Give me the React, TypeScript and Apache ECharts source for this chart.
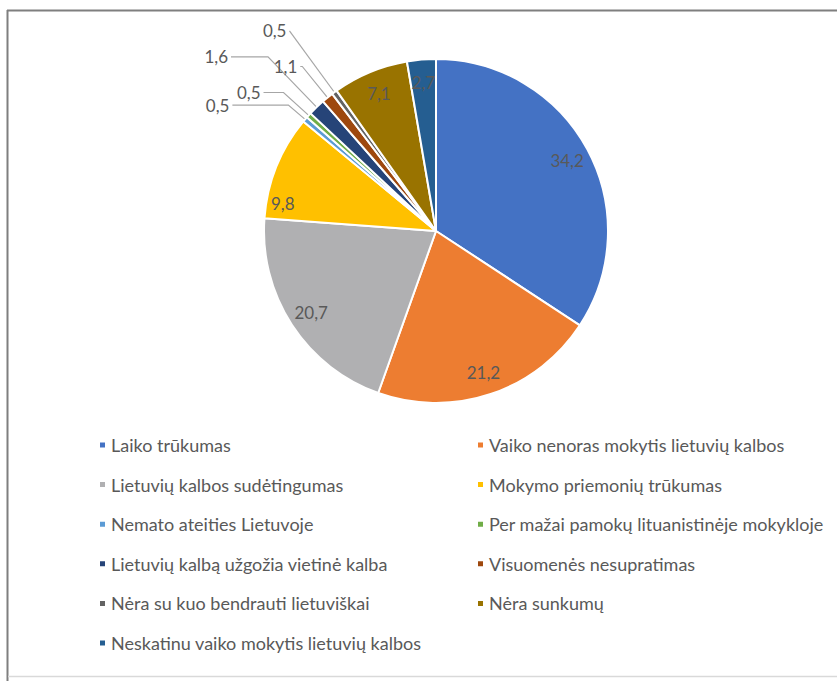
import React, { useEffect, useRef } from "react";
import * as echarts from "echarts";

const categories = [
  "Laiko trūkumas",
  "Vaiko nenoras mokytis lietuvių kalbos",
  "Lietuvių kalbos sudėtingumas",
  "Mokymo priemonių trūkumas",
  "Nemato ateities Lietuvoje",
  "Per mažai pamokų lituanistinėje mokykloje",
  "Lietuvių kalbą užgožia vietinė kalba",
  "Visuomenės nesupratimas",
  "Nėra su kuo bendrauti lietuviškai",
  "Nėra sunkumų",
  "Neskatinu vaiko mokytis lietuvių kalbos",
];
const values = [34.2, 21.2, 20.7, 9.8, 0.5, 0.5, 1.6, 1.1, 0.5, 7.1, 2.7];

const colors = [
  "#4472C4", "#ED7D31", "#B0B0B2", "#FFC000", "#5B9BD5", "#70AD47",
  "#264478", "#9E480E", "#636363", "#997300", "#255E91",
];
// which slices carry their value inside the pie
const insideLabel = [true, true, true, true, false, false, false, false, false, true, true];
// leader line lengths for the outside labels (style only)
const leaderLen: Record<number, [number, number]> = {
  4: [22, 56],
  5: [34, 20],
  6: [70, 37],
  7: [40, 2],
  8: [76, 0],
};
const insideOffset: Record<number, [number, number]> = { 3: [-15, 28] };

const TEXT = "#595959";
const FONT = "Lato, 'Open Sans', sans-serif";
const fmt = (v: number) => String(v).replace(".", ",");

export default function App() {
  const ref = useRef<HTMLDivElement>(null);
  useEffect(() => {
    document.body.style.margin = "0";
    const chart = echarts.init(ref.current!, null, { renderer: "svg" });

    const mainData = categories.map((name, i) => {
      const ll = leaderLen[i];
      return {
        name,
        value: values[i],
        itemStyle: { color: colors[i] },
        label: ll
          ? { show: true, position: "outside" as const }
          : { show: false },
        labelLine: ll
          ? { show: true, length: ll[0], length2: ll[1], lineStyle: { color: "#A6A6A6", width: 1.2 } }
          : { show: false },
      };
    });

    const overlayData = categories.map((name, i) => ({
      name,
      value: values[i],
      itemStyle: { color: "rgba(0,0,0,0)", borderWidth: 0 },
      label: insideLabel[i]
        ? { show: true, position: "inside" as const, offset: insideOffset[i] || [0, 0] }
        : { show: false },
      labelLine: { show: false },
    }));

    const legendItems = (idx: number[]) =>
      idx.map((i) => ({ name: categories[i], itemStyle: { color: colors[i] } }));

    const legendCommon = {
      orient: "vertical" as const,
      icon: "rect",
      itemWidth: 7,
      itemHeight: 7,
      itemGap: 19.6,
      itemTextGap: 7,
      padding: 0,
      selectedMode: false,
      textStyle: { color: TEXT, fontSize: 18, fontFamily: FONT, lineHeight: 20 },
      top: 435,
    };

    chart.setOption({
      animation: false,
      backgroundColor: "#ffffff",
      color: colors,
      legend: [
        { ...legendCommon, left: 98, data: legendItems([0, 2, 4, 6, 8, 10]) },
        { ...legendCommon, left: 476, data: legendItems([1, 3, 5, 7, 9]) },
      ],
      graphic: [
        { type: "line", shape: { x1: 7, y1: 10.5, x2: 837, y2: 10.5 }, style: { stroke: "#7F7F7F", lineWidth: 2 } },
        { type: "line", shape: { x1: 7.5, y1: 10, x2: 7.5, y2: 681 }, style: { stroke: "#7F7F7F", lineWidth: 2 } },
        { type: "line", shape: { x1: 8, y1: 676.5, x2: 837, y2: 676.5 }, style: { stroke: "#D9D9D9", lineWidth: 1.5 } },
      ],
      series: [
        {
          type: "pie",
          center: [436, 231],
          radius: [0, 172],
          startAngle: 90,
          clockwise: true,
          avoidLabelOverlap: false,
          itemStyle: { borderColor: "#ffffff", borderWidth: 2 },
          label: {
            color: TEXT,
            fontSize: 17,
            fontFamily: FONT,
            distanceToLabelLine: 3,
            formatter: (p: any) => fmt(p.value),
          },
          emphasis: { disabled: true },
          data: mainData,
        },
        {
          type: "pie",
          center: [436, 231],
          radius: [120, 172],
          startAngle: 90,
          clockwise: true,
          silent: true,
          avoidLabelOverlap: false,
          label: {
            color: TEXT,
            fontSize: 17,
            fontFamily: FONT,
            formatter: (p: any) => fmt(p.value),
          },
          emphasis: { disabled: true },
          data: overlayData,
        },
      ],
    });
    return () => chart.dispose();
  }, []);
  return <div ref={ref} style={{ width: 837, height: 681 }} />;
}
